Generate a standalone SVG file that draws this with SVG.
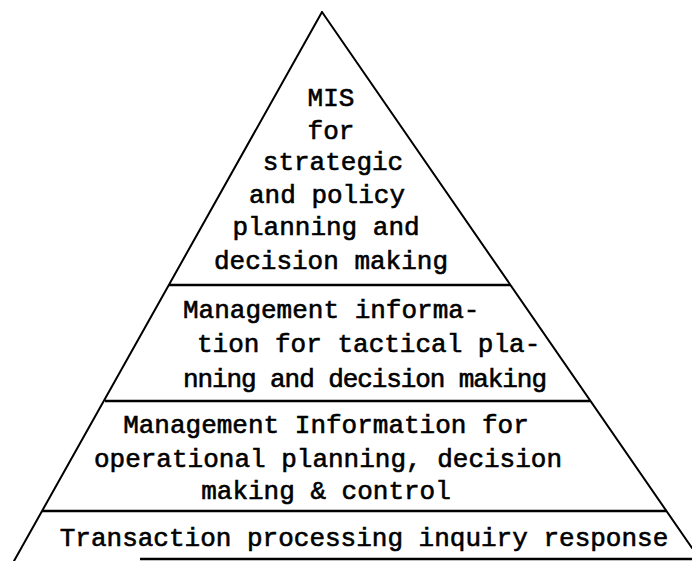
<svg xmlns="http://www.w3.org/2000/svg" width="692" height="561" viewBox="0 0 692 561">
  <style>
    .edge { stroke: #000; stroke-width: 2; fill: none; stroke-linecap: round; }
    .tier { stroke: #000; stroke-width: 2.5; fill: none; }
    text { font-family: "Liberation Mono", "Courier New", monospace; font-size: 26px; fill: #000; stroke: #000; stroke-width: 0.6; }
    .c { text-anchor: middle; }
  </style>
  <rect width="692" height="561" fill="#fff"/>

  <!-- pyramid outline and tier dividers -->
  <g id="connectors">
    <line class="edge" x1="322" y1="12" x2="14" y2="561"/>
    <line class="edge" x1="322" y1="12" x2="692" y2="548"/>
    <line class="tier" x1="169" y1="285" x2="510" y2="285"/>
    <line class="tier" x1="105" y1="401" x2="590" y2="401"/>
    <line class="tier" x1="42" y1="511" x2="667" y2="511"/>
    <line class="tier" x1="140" y1="559" x2="692" y2="559"/>
  </g>

  <!-- apex: strategic level -->
  <g id="strategic">
    <text class="c" x="331" y="106">MIS</text>
    <text class="c" x="331" y="139">for</text>
    <text class="c" x="333" y="170">strategic</text>
    <text class="c" x="327" y="203">and policy</text>
    <text class="c" x="326" y="235">planning and</text>
    <text class="c" x="331" y="269">decision making</text>
  </g>

  <!-- tactical level -->
  <g id="tactical">
    <text x="183" y="318">Management informa-</text>
    <text x="197" y="352">tion for tactical pla-</text>
    <text x="183" y="387" textLength="364" lengthAdjust="spacing">nning and decision making</text>
  </g>

  <!-- operational level -->
  <g id="operational">
    <text class="c" x="326" y="433">Management Information for</text>
    <text class="c" x="328" y="467">operational planning, decision</text>
    <text class="c" x="326" y="499">making &amp; control</text>
  </g>

  <!-- base: transaction processing -->
  <g id="transactions">
    <text class="c" x="364" y="546">Transaction processing inquiry response</text>
  </g>
</svg>
